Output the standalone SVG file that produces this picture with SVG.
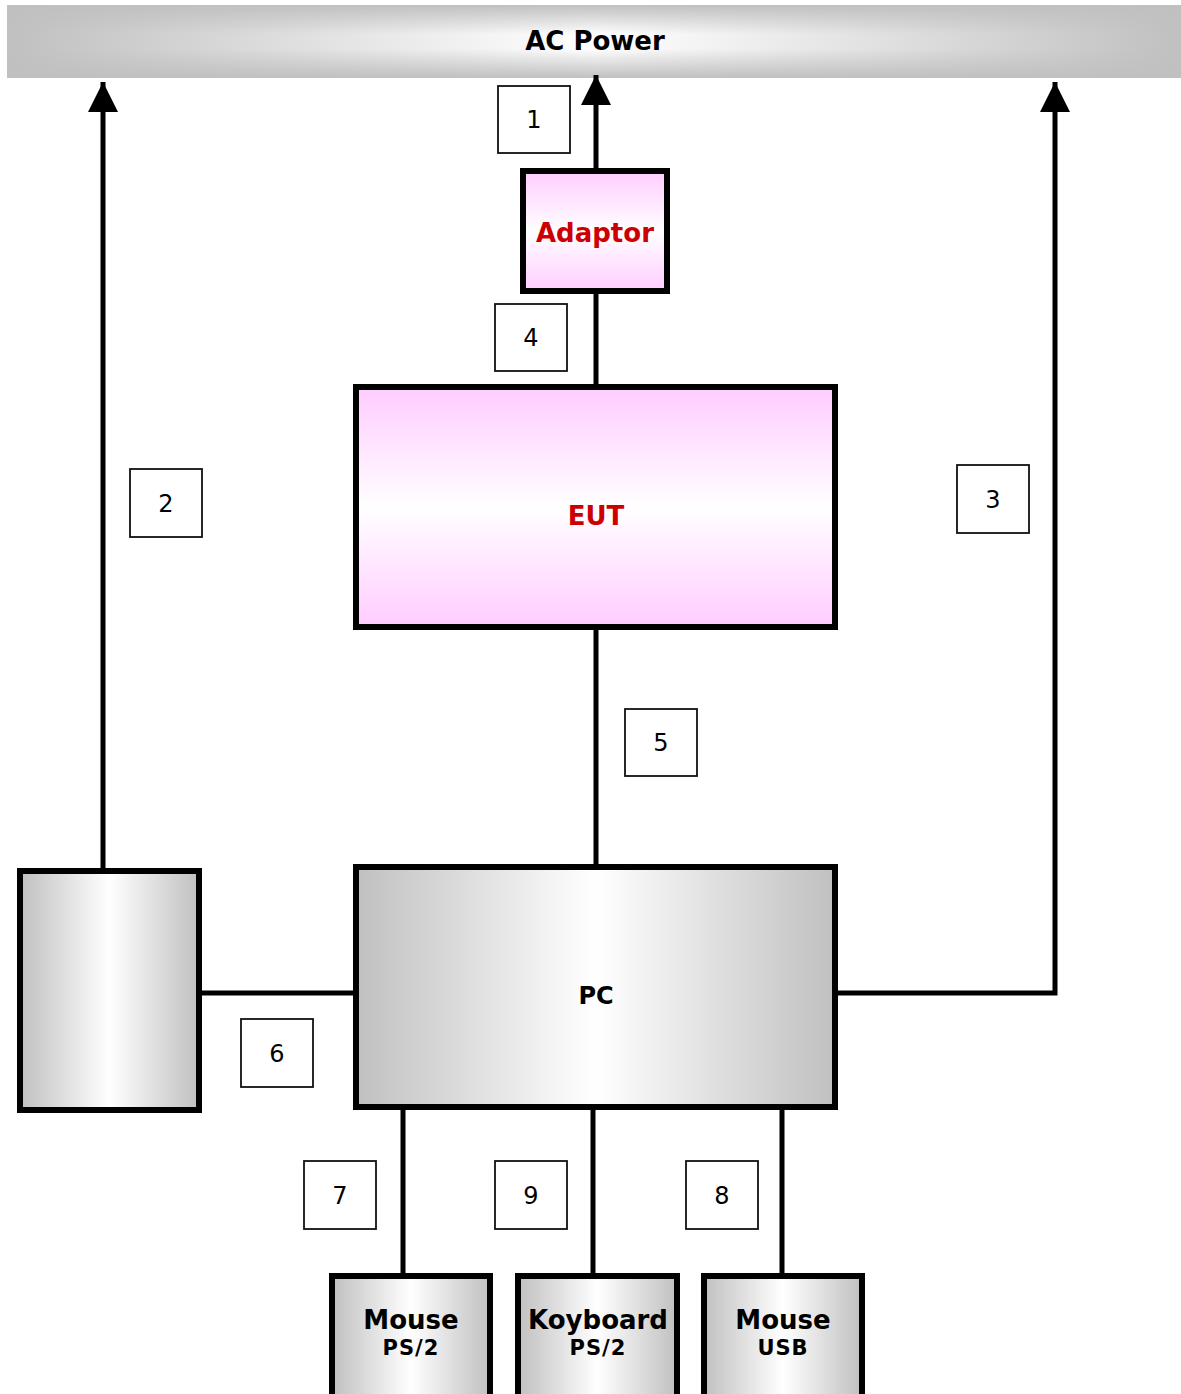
<svg xmlns="http://www.w3.org/2000/svg" width="1181" height="1394" viewBox="0 0 1181 1394">
  <defs>
    <linearGradient id="pink" x1="0" y1="0" x2="0" y2="1">
      <stop offset="0" stop-color="#ffccff"/>
      <stop offset="0.5" stop-color="#ffffff"/>
      <stop offset="1" stop-color="#ffccff"/>
    </linearGradient>
    <linearGradient id="metal" x1="0" y1="0" x2="1" y2="0">
      <stop offset="0" stop-color="#c0c0c0"/>
      <stop offset="0.5" stop-color="#ffffff"/>
      <stop offset="1" stop-color="#c0c0c0"/>
    </linearGradient>
    <linearGradient id="barH" x1="0" y1="0" x2="1" y2="0">
      <stop offset="0" stop-color="#c0c0c0"/>
      <stop offset="0.5" stop-color="#ffffff"/>
      <stop offset="1" stop-color="#c0c0c0"/>
    </linearGradient>
    <linearGradient id="barV" x1="0" y1="0" x2="0" y2="1">
      <stop offset="0" stop-color="#c0c0c0" stop-opacity="1"/>
      <stop offset="0.4" stop-color="#c0c0c0" stop-opacity="0"/>
      <stop offset="0.6" stop-color="#c0c0c0" stop-opacity="0"/>
      <stop offset="1" stop-color="#c0c0c0" stop-opacity="1"/>
    </linearGradient>
    <marker id="arrow" viewBox="0 0 10 10" refX="10" refY="5" markerWidth="6" markerHeight="6" markerUnits="strokeWidth" orient="auto">
      <path d="M0,0 L10,5 L0,10 z" fill="#000"/>
    </marker>
  </defs>
  <style>
    .wire { fill: none; stroke: #000; stroke-width: 5; }
    .node { stroke: #000; stroke-width: 6; }
    .tag rect { fill: #fff; stroke: #111; stroke-width: 1.8; }
    .tag text { font-family: "DejaVu Sans", sans-serif; font-size: 24px; fill: #000; text-anchor: middle; }
    .lbl { font-family: "DejaVu Sans", sans-serif; font-weight: bold; text-anchor: middle; }
    .red { fill: #cc0000; font-size: 26px; }
    .blk { fill: #000; }
    .sub { font-size: 21px; letter-spacing: 1px; }
  </style>

  <!-- mains supply bar -->
  <g id="ac-power">
    <rect x="7" y="5" width="1174" height="73" fill="url(#barH)"/>
    <rect x="7" y="5" width="1174" height="73" fill="url(#barV)"/>
    <text class="lbl blk" x="595" y="50" font-size="26">AC Power</text>
  </g>

  <!-- connectors -->
  <g id="connectors">
    <path class="wire" d="M103,868 V82" marker-end="url(#arrow)"/>
    <path class="wire" d="M596,170 V75" marker-end="url(#arrow)"/>
    <path class="wire" d="M838,993 H1055 V82" marker-end="url(#arrow)"/>
    <path class="wire" d="M596,292 V386"/>
    <path class="wire" d="M596,628 V866"/>
    <path class="wire" d="M200,993 H355"/>
    <path class="wire" d="M403,1108 V1275"/>
    <path class="wire" d="M593,1108 V1275"/>
    <path class="wire" d="M782,1108 V1275"/>
  </g>

  <g id="adaptor">
    <rect class="node" x="523" y="171" width="144" height="120" fill="url(#pink)"/>
    <text class="lbl red" x="595" y="242">Adaptor</text>
  </g>

  <g id="eut">
    <rect class="node" x="356" y="387" width="479" height="240" fill="url(#pink)"/>
    <text class="lbl red" x="596" y="525">EUT</text>
  </g>

  <g id="pc">
    <rect class="node" x="356" y="867" width="479" height="240" fill="url(#metal)"/>
    <text class="lbl blk" x="596" y="1004" font-size="24">PC</text>
  </g>

  <g id="monitor">
    <rect class="node" x="20" y="871" width="179" height="239" fill="url(#metal)"/>
  </g>

  <g id="mouse-ps2">
    <rect class="node" x="332" y="1276" width="158" height="125" fill="url(#metal)"/>
    <text class="lbl blk" x="411" y="1329" font-size="26">Mouse</text>
    <text class="lbl blk sub" x="411" y="1355">PS/2</text>
  </g>

  <g id="keyboard-ps2">
    <rect class="node" x="518" y="1276" width="159" height="125" fill="url(#metal)"/>
    <text class="lbl blk" x="598" y="1329" font-size="26">Koyboard</text>
    <text class="lbl blk sub" x="598" y="1355">PS/2</text>
  </g>

  <g id="mouse-usb">
    <rect class="node" x="704" y="1276" width="158" height="125" fill="url(#metal)"/>
    <text class="lbl blk" x="783" y="1329" font-size="26">Mouse</text>
    <text class="lbl blk sub" x="783" y="1355">USB</text>
  </g>

  <!-- cable number tags -->
  <g id="tag-1" class="tag"><rect x="498" y="86" width="72" height="67"/><text x="534" y="128">1</text></g>
  <g id="tag-2" class="tag"><rect x="130" y="469" width="72" height="68"/><text x="166" y="512">2</text></g>
  <g id="tag-3" class="tag"><rect x="957" y="465" width="72" height="68"/><text x="993" y="508">3</text></g>
  <g id="tag-4" class="tag"><rect x="495" y="304" width="72" height="67"/><text x="531" y="346">4</text></g>
  <g id="tag-5" class="tag"><rect x="625" y="709" width="72" height="67"/><text x="661" y="751">5</text></g>
  <g id="tag-6" class="tag"><rect x="241" y="1019" width="72" height="68"/><text x="277" y="1062">6</text></g>
  <g id="tag-7" class="tag"><rect x="304" y="1161" width="72" height="68"/><text x="340" y="1204">7</text></g>
  <g id="tag-9" class="tag"><rect x="495" y="1161" width="72" height="68"/><text x="531" y="1204">9</text></g>
  <g id="tag-8" class="tag"><rect x="686" y="1161" width="72" height="68"/><text x="722" y="1204">8</text></g>
</svg>
